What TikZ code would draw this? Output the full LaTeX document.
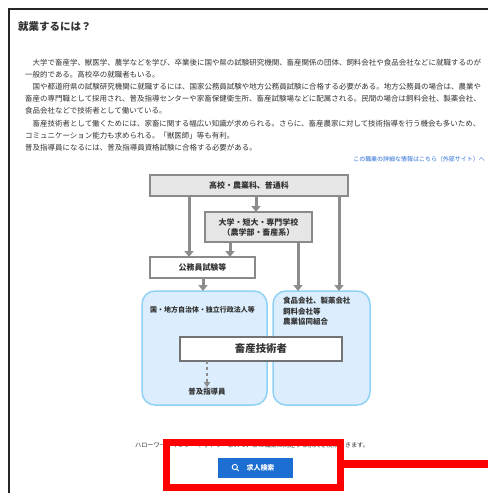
\documentclass[tikz,border=0pt]{standalone}
\usepackage{fontspec}
\setmainfont{Noto Sans CJK JP}
\usetikzlibrary{arrows.meta,calc}
\definecolor{txt}{HTML}{333333}
\definecolor{boxline}{HTML}{8A8A8A}
\definecolor{boxfill}{HTML}{E6E6E6}
\definecolor{arrowgray}{HTML}{8C8C8C}
\definecolor{bluefill}{HTML}{DCEEFD}
\definecolor{blueline}{HTML}{8FD1F7}
\definecolor{linkblue}{HTML}{2A6FD6}
\definecolor{btnblue}{HTML}{1C6ED3}
\definecolor{hlred}{HTML}{FF0000}
\tikzset{
  para/.style={anchor=base west, inner sep=0pt, text=txt, font=\fontsize{7.5}{9}\selectfont},
  graybox/.style={draw=boxline, fill=boxfill, line width=1.2bp, inner sep=0pt, outer sep=0pt, text=txt, font=\fontsize{8}{10}\selectfont\bfseries, align=center},
  whitebox/.style={draw=boxline, fill=white, line width=1.2bp, inner sep=0pt, outer sep=0pt, text=txt, font=\fontsize{8}{10}\selectfont\bfseries, align=center},
  bluebox/.style={draw=blueline, fill=bluefill, line width=1.5bp, rounded corners=13bp, inner sep=0pt, outer sep=0pt},
  arr/.style={draw=arrowgray, line width=3bp, -{Triangle[width=9bp,length=6bp]}},
}
\begin{document}
\begin{tikzpicture}[x=1bp,y=-1bp]
\useasboundingbox (0,0) rectangle (488,493);
\fill[white] (0,0) rectangle (488,493);
\begin{scope}
\clip (0,0) rectangle (488,493);
% frame
\draw[line width=2bp, draw=black!85] (9,495) -- (9,9) -- (490,9);
% title
\node[anchor=base west, inner sep=0pt, text=txt, font=\fontsize{10.5}{12}\selectfont\bfseries] (title) at (18,31) {就業するには？};
% paragraphs
\node[para] (l1) at (25,66) {　大学で畜産学、獣医学、農学などを学び、卒業後に国や県の試験研究機関、畜産関係の団体、飼料会社や食品会社などに就職するのが};
\node[para] (l2) at (25,78) {一般的である。高校卒の就職者もいる。};
\node[para] (l3) at (25,90) {　国や都道府県の試験研究機関に就職するには、国家公務員試験や地方公務員試験に合格する必要がある。地方公務員の場合は、農業や};
\node[para] (l4) at (25,102) {畜産の専門職として採用され、普及指導センターや家畜保健衛生所、畜産試験場などに配属される。民間の場合は飼料会社、製薬会社、};
\node[para] (l5) at (25,114) {食品会社などで技術者として働いている。};
\node[para] (l6) at (25,127) {　畜産技術者として働くためには、家畜に関する幅広い知識が求められる。さらに、畜産農家に対して技術指導を行う機会も多いため、};
\node[para] (l7) at (25,139) {コミュニケーション能力も求められる。「獣医師」等も有利。};
\node[para] (l8) at (25,151) {普及指導員になるには、普及指導員資格試験に合格する必要がある。};
\node[anchor=base east, inner sep=0pt, text=linkblue, font=\fontsize{6}{7}\selectfont] (link) at (485,162) {この職業の詳細な情報はこちら（外部サイト）へ};
% column coordinates
\coordinate (xa) at (189,0);
\coordinate (xb) at (256,0);
\coordinate (xc) at (339,0);
\coordinate (xd) at (230,0);
\coordinate (xe) at (298,0);
\coordinate (xf) at (203,0);
\coordinate (xg) at (207,0);
% blue boxes
\node[bluebox, minimum width=125bp, minimum height=114bp] (L) at (204.5,348) {};
\node[bluebox, minimum width=97bp, minimum height=114bp] (R) at (321.5,348) {};
% flowchart boxes
\node[graybox, minimum width=198bp, minimum height=21bp] (t) at (249,185.5) {高校・農業科、普通科};
\node[graybox, minimum width=107bp, minimum height=30bp] (u) at (258.5,227) {大学・短大・専門学校\\（農学部・畜産系）};
\node[whitebox, minimum width=105bp, minimum height=21bp] (c) at (202.5,267.5) {公務員試験等};
% connectors
\draw[arr] (t.south -| xa) -- (c.north -| xa);
\draw[arr] (t.south -| xb) -- (u.north -| xb);
\draw[arr] (t.south -| xc) -- (R.north -| xc);
\draw[arr] (u.south -| xd) -- (c.north -| xd);
\draw[arr] (u.south -| xe) -- (R.north -| xe);
\draw[arr] (c.south -| xf) -- (L.north -| xf);
% blue box labels
\node[anchor=base west, inner sep=0pt, text=txt, font=\fontsize{7}{8}\selectfont\bfseries] (Lt) at (150,312) {国・地方自治体・独立行政法人等};
\node[anchor=north west, inner sep=0pt, text=txt, font=\fontsize{7.5}{10.5}\selectfont\bfseries, align=left] (Rt) at (283,297) {食品会社、製薬会社\\飼料会社等\\農業協同組合};
% center box
\node[whitebox, draw=black!55, line width=2bp, minimum width=162bp, minimum height=24bp, font=\fontsize{10.5}{12}\selectfont\bfseries] (m) at (261,349) {畜産技術者};
\node[inner sep=1pt, text=txt, font=\fontsize{7.5}{9}\selectfont\bfseries] (b) at (207,392) {普及指導員};
\draw[draw=arrowgray, line width=1.2bp, dashed, -{Triangle[width=6bp,length=5bp]}] (m.south -| xg) -- (b.north -| xg);
% caption and button
\node[anchor=base, inner sep=0pt, text=txt, font=\fontsize{6.2}{7}\selectfont] (cap) at (252,447) {ハローワークインターネットサービスで、この職業に関連する求人を検索できます。};
\node[fill=btnblue, minimum width=75bp, minimum height=20bp, inner sep=0pt, text=white, font=\fontsize{7}{8}\selectfont\bfseries] (btn) at (255.5,468) {\hspace*{10bp}求人検索};
\draw[white, line width=0.9bp] ($(btn.west)+(17,-1)$) circle (2.6bp) ($(btn.west)+(18.9,0.9)$) -- ($(btn.west)+(21,3)$);
% red highlight
\node[draw=hlred, line width=7bp, minimum width=174bp, minimum height=45bp, inner sep=0pt] (hl) at (253.5,465) {};
\coordinate (hr) at (492,464);
\draw[hlred, line width=8bp] (hl.east |- hr) -- (hr);
\end{scope}
\end{tikzpicture}
\end{document}
